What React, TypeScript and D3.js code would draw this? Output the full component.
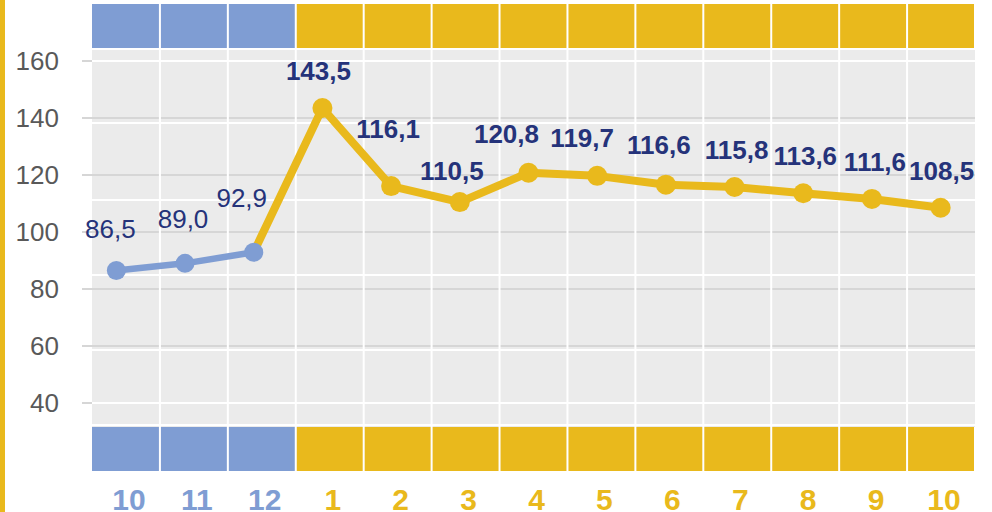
import React, { useRef, useEffect } from 'react';
import * as d3 from 'd3';

// month labels along the bottom row
const months = ['10', '11', '12', '1', '2', '3', '4', '5', '6', '7', '8', '9', '10'];
// index values
const values = [86.5, 89.0, 92.9, 143.5, 116.1, 110.5, 120.8, 119.7, 116.6, 115.8, 113.6, 111.6, 108.5];
// which period each month belongs to (prior year vs current)
const period = ['prev', 'prev', 'prev', 'cur', 'cur', 'cur', 'cur', 'cur', 'cur', 'cur', 'cur', 'cur', 'cur'];
const yTicks = [40, 60, 80, 100, 120, 140, 160];

// label nudges (dx, dy) as placed by hand in the original
const labelNudge: [number, number][] = [
  [-6, -4], [-2, -7], [-12, -17], [-4, 0], [-3, -20], [-8, 6], [-22, -2],
  [-15, -1], [-7, -3], [2, 0], [2, 0], [3, 0], [1, 0],
];

const BLUE = '#7f9dd3';
const GOLD = '#e9b91c';
const NAVY = '#25337a';
const FONT = '"Liberation Sans", Arial, sans-serif';

const App = () => {
  const svgRef = useRef<SVGSVGElement>(null);

  useEffect(() => {
    const width = 992;
    const height = 512;
    const svg = d3.select(svgRef.current);
    svg.selectAll('*').remove();
    svg.attr('width', width).attr('height', height);

    const fmt = (v: number) => d3.format('.1f')(v).replace('.', ',');
    const idx = months.map((_, i) => i);

    // sheet cells behind the chart
    const cells = d3.scaleBand<number>().domain(idx).range([92, 975]);
    const cellRows = [49, 61, 123, 200, 275, 350, 403, 425];

    svg.append('rect').attr('x', 0).attr('y', 0).attr('width', 5).attr('height', height).attr('fill', GOLD);

    svg.append('rect').attr('x', 92).attr('y', 49).attr('width', 975 - 92).attr('height', 427 - 49).attr('fill', '#ebebeb');

    // chart scales
    const x = d3.scaleBand<number>().domain(idx).range([82, 975]);
    const cx = (i: number) => (x(i) as number) + x.bandwidth() / 2;
    const y = d3.scaleLinear().domain([40, 160]).range([403, 61]);

    // gridlines
    svg.append('g').selectAll('line').data(yTicks).enter().append('line')
      .attr('x1', 82).attr('x2', 975)
      .attr('y1', d => y(d)).attr('y2', d => y(d))
      .attr('stroke', '#d6d6d6').attr('stroke-width', 2);

    // white cell borders
    svg.append('g').selectAll('line').data(cellRows).enter().append('line')
      .attr('x1', 92).attr('x2', 975)
      .attr('y1', d => d).attr('y2', d => d)
      .attr('stroke', '#ffffff').attr('stroke-width', 2);
    svg.append('g').selectAll('line').data(idx.slice(1)).enter().append('line')
      .attr('x1', d => cells(d) as number).attr('x2', d => cells(d) as number)
      .attr('y1', 4).attr('y2', 471)
      .attr('stroke', '#ffffff').attr('stroke-width', 2);

    // top and bottom coloured bands
    [4, 427].forEach(top => {
      svg.append('g').selectAll('rect').data(idx).enter().append('rect')
        .attr('x', d => (cells(d) as number) + (d === 0 ? 0 : 1))
        .attr('y', top)
        .attr('width', d => cells.bandwidth() - (d === 0 ? 1 : 2))
        .attr('height', 44)
        .attr('fill', d => (period[d] === 'prev' ? BLUE : GOLD));
    });

    // y axis labels
    svg.append('g').selectAll('text').data(yTicks).enter().append('text')
      .attr('x', 59).attr('y', d => y(d)).attr('dy', '0.35em')
      .attr('text-anchor', 'end')
      .style('font-family', FONT).style('font-size', '26px').attr('fill', '#595959')
      .text(d => d);

    // x labels in the sheet cells
    svg.append('g').selectAll('text').data(idx).enter().append('text')
      .attr('x', d => (cells(d) as number) + cells.bandwidth() / 2 + 3)
      .attr('y', 510)
      .attr('text-anchor', 'middle')
      .style('font-family', FONT).style('font-size', '30px').style('font-weight', 700)
      .attr('fill', d => (period[d] === 'prev' ? BLUE : GOLD))
      .text(d => months[d]);

    const line = d3.line<number>().x(i => cx(i)).y(i => y(values[i]));
    const prevIdx = idx.filter(i => period[i] === 'prev');
    const curIdx = idx.filter(i => period[i] === 'cur');
    const curLineIdx = [prevIdx[prevIdx.length - 1], ...curIdx];

    svg.append('path').attr('d', line(curLineIdx) as string)
      .attr('fill', 'none').attr('stroke', GOLD).attr('stroke-width', 8).attr('stroke-linejoin', 'round');
    svg.append('path').attr('d', line(prevIdx) as string)
      .attr('fill', 'none').attr('stroke', BLUE).attr('stroke-width', 6.5).attr('stroke-linejoin', 'round');

    svg.append('g').selectAll('circle').data(idx).enter().append('circle')
      .attr('cx', d => cx(d)).attr('cy', d => y(values[d]))
      .attr('r', d => (period[d] === 'prev' ? 9.5 : 10))
      .attr('fill', d => (period[d] === 'prev' ? BLUE : GOLD));

    // data labels
    svg.append('g').selectAll('text').data(idx).enter().append('text')
      .attr('x', d => cx(d) + labelNudge[d][0])
      .attr('y', d => y(values[d]) - 28 + labelNudge[d][1])
      .attr('text-anchor', 'middle')
      .style('font-family', FONT).style('font-size', '26px')
      .style('font-weight', d => (period[d] === 'prev' ? 400 : 700))
      .attr('fill', NAVY)
      .text(d => fmt(values[d]));
  }, []);

  return <svg ref={svgRef} style={{ position: 'absolute', left: 0, top: 0, display: 'block' }}></svg>;
};

export default App;
